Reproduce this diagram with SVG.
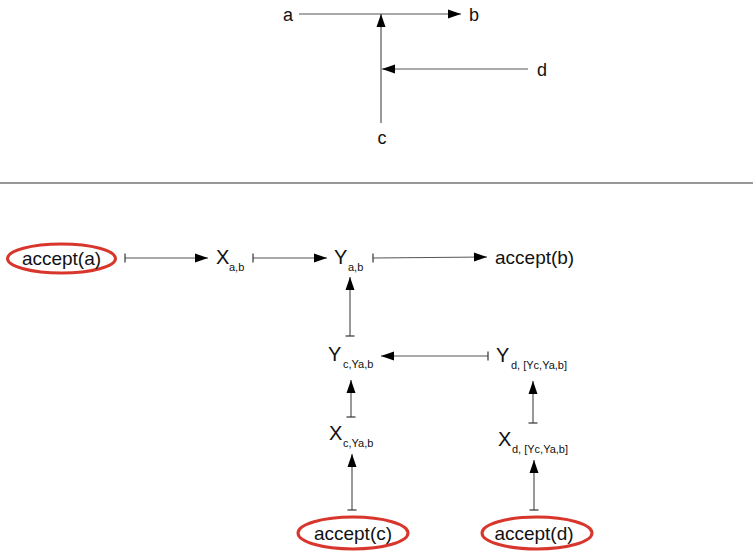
<svg xmlns="http://www.w3.org/2000/svg" width="753" height="551" viewBox="0 0 753 551">
<style>
.t{font-family:"Liberation Sans",Arial,sans-serif;fill:#111}
.big{font-size:19px}
.xy{font-size:20px}
.top{font-size:18px}
.sub{font-size:11px}
.c{stroke:#555;stroke-width:1.2;fill:none}
.a{marker-end:url(#arr)}
.tk{marker-start:url(#tick)}
.ov{fill:none;stroke:#d8362c;stroke-width:3}
</style>
<defs>
<marker id="arr" markerUnits="userSpaceOnUse" markerWidth="14" markerHeight="10" refX="13" refY="4.5" orient="auto" overflow="visible">
<path d="M0,0 L13,4.5 L0,9 z" fill="#000"/>
</marker>
<marker id="tick" markerUnits="userSpaceOnUse" markerWidth="4" markerHeight="10" refX="0" refY="4.5" orient="auto" overflow="visible">
<path d="M0,0 L0,9" stroke="#333" stroke-width="1.2"/>
</marker>
</defs>

<g id="top-labels">
<text class="t top" x="283" y="21">a</text>
<text class="t top" x="469" y="21">b</text>
<text class="t top" x="537" y="76">d</text>
<text class="t top" x="382" y="144" text-anchor="middle">c</text>
</g>
<g id="top-connectors">
<line class="c a" x1="299" y1="14" x2="461" y2="14"/>
<line class="c a" x1="381" y1="123" x2="381" y2="14"/>
<line class="c a" x1="528" y1="69" x2="382" y2="69"/>
</g>

<line id="separator" x1="0" y1="183" x2="753" y2="183" stroke="#333" stroke-width="1"/>

<g id="accept-a">
<ellipse class="ov" cx="61.5" cy="258.5" rx="54" ry="14.5"/>
<text class="t big" x="61.5" y="265" text-anchor="middle">accept(a)</text>
</g>
<g id="x-ab">
<text class="t xy" x="216" y="264">X</text>
<text class="t sub" x="229" y="271">a,b</text>
</g>
<g id="y-ab">
<text class="t xy" x="334" y="264">Y</text>
<text class="t sub" x="348" y="271">a,b</text>
</g>
<g id="accept-b">
<text class="t big" x="495" y="264">accept(b)</text>
</g>
<g id="y-c">
<text class="t xy" x="328" y="361">Y</text>
<text class="t sub" x="343" y="368">c,Ya,b</text>
</g>
<g id="y-d">
<text class="t xy" x="496" y="362">Y</text>
<text class="t sub" x="511" y="369">d, [Yc,Ya,b]</text>
</g>
<g id="x-c">
<text class="t xy" x="329" y="440">X</text>
<text class="t sub" x="343" y="447">c,Ya,b</text>
</g>
<g id="x-d">
<text class="t xy" x="498" y="446">X</text>
<text class="t sub" x="512" y="453">d, [Yc,Ya,b]</text>
</g>
<g id="accept-c">
<ellipse class="ov" cx="353" cy="533" rx="55" ry="16"/>
<text class="t big" x="353" y="540" text-anchor="middle">accept(c)</text>
</g>
<g id="accept-d">
<ellipse class="ov" cx="537" cy="533" rx="55" ry="16"/>
<text class="t big" x="534" y="540" text-anchor="middle">accept(d)</text>
</g>

<g id="connectors">
<line class="c a tk" x1="125" y1="258" x2="208" y2="258"/>
<line class="c a tk" x1="253" y1="258" x2="327" y2="258"/>
<line class="c a tk" x1="373" y1="258" x2="487" y2="257"/>
<line class="c a tk" x1="350" y1="336" x2="350" y2="277"/>
<line class="c a tk" x1="488" y1="356" x2="381" y2="356"/>
<line class="c a tk" x1="351" y1="417" x2="351" y2="380"/>
<line class="c a tk" x1="533" y1="423" x2="533" y2="381"/>
<line class="c a tk" x1="352" y1="510" x2="352" y2="454"/>
<line class="c a tk" x1="534" y1="510" x2="534" y2="460"/>
</g>
</svg>
